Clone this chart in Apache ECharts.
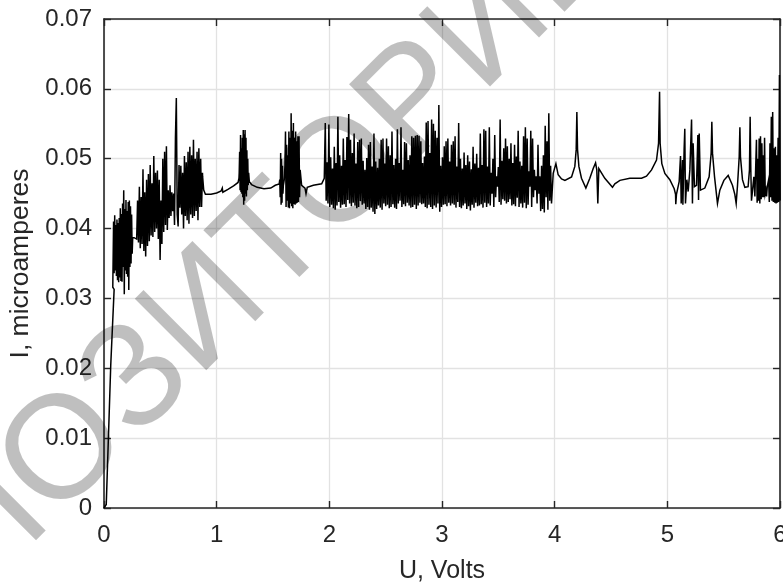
<!DOCTYPE html>
<html><head><meta charset="utf-8">
<style>html,body{margin:0;padding:0;background:#fff;overflow:hidden}#c{width:783px;height:584px}</style>
<script src="https://cdn.jsdelivr.net/npm/echarts@6/dist/echarts.min.js"></script>
</head><body><div id="c"></div>
<script>
const xTicks=[0,1,2,3,4,5,6];
const yTicks=[0,0.01,0.02,0.03,0.04,0.05,0.06,0.07];
const riseU=[0,0.012,0.02,0.06,0.09,0.078];
const riseI=[0,0,0.0005,0.0205,0.0313,0.0316];
const burstAStart=0.08,burstAStep=0.005;
const burstA=[.0316,.0410,.0336,.0419,.0340,.0405,.0332,.0413,.0326,.0408,.0323,.0415,.0330,.0429,.0325,.0421,.0324,.0436,.0345,.0455,.0306,.0428,.0340,.0441,.0335,.0425,.0331,.0438,.0312,.0440,.0345,.0432,.0350,.0420,.0364,.0388];
const burstBStart=0.29,burstBStep=0.008;
const burstB=[.0385,.0440,.0380,.0460,.0372,.0445,.0378,.0485,.0368,.0452,.0360,.0470,.0375,.0478,.0382,.0491,.0390,.0465,.0388,.0504,.0395,.0480,.0400,.0483,.0385,.0470,.0355,.0440,.0378,.0500,.0395,.0510,.0405,.0518,.0398,.0455,.0415,.0462,.0418,.0452,.0425,.0450,.0405,.0530,.0587,.0420,.0403,.0491,.0430,.0490,.0420,.0480,.0400,.0504,.0418,.0495,.0412,.0510,.0407,.0517,.0420,.0505,.0415,.0527,.0418,.0500,.0425,.0510,.0412,.0515,.0431,.0500,.0431,.0480];
const flat1U=[.875,.885,.90,.95,1.0,1.04,1.05,1.055,1.10,1.15,1.19,1.198];
const flat1I=[.0475,.0455,.0449,.0449,.0451,.0454,.0458,.0452,.0456,.0461,.0466,.0472];
const burstCStart=1.2,burstCStep=0.004;
const burstC=[.0480,.0510,.0455,.0534,.0452,.0515,.0450,.0530,.0445,.0541,.0434,.0535,.0440,.0541,.0450,.0530,.0446,.0512,.0455,.0500,.0462,.0480];
const flat2U=[1.29,1.31,1.36,1.42,1.48,1.52,1.555];
const flat2I=[.0467,.0463,.0459,.0457,.0458,.0462,.0464];
const burstC2Start=1.56,burstC2Step=0.004;
const burstC2=[.0470,.0445,.0508,.0434,.0500,.0437,.0490,.0450];
const flat3U=[1.592,1.6];
const flat3I=[.0462,.0470];
const burstDStart=1.606,burstDStep=0.005;
const burstD=[.0490,.0539,.0431,.0520,.0440,.0505,.0430,.0539,.0429,.0530,.0436,.0565,.0432,.0540,.0429,.0551,.0435,.0530,.0434,.0539,.0436,.0525,.0437,.0532,.0438,.0532,.0445,.0484];
const flat4U=[1.754,1.784,1.793,1.804,1.858,1.932,1.955];
const flat4I=[.0462,.0458,.0450,.0459,.0462,.0464,.0472];
const burstEStart=1.964,burstEStep=0.008;
const burstEHigh=[.0551,.0495,.0549,.0502,.0486,.0517,.0494,.0560,.0505,.0490,.0529,.0498,.0531,.0564,.0527,.0508,.0536,.0493,.0524,.0527,.0529,.0497,.0484,.0501,.0520,.0524,.0489,.0536,.0496,.0487,.0500,.0527,.0529,.0493,.0529,.0518,.0505,.0539,.0491,.0500,.0542,.0494,.0545,.0484,.0524,.0522,.0498,.0505,.0532,.0530,.0533,.0534,.0533,.0525,.0494,.0503,.0552,.0554,.0508,.0556,.0550,.0540,.0530,.0577,.0490,.0502,.0518,.0525,.0529,.0496,.0520,.0525,.0532,.0489,.0551,.0500,.0486,.0509,.0491,.0505,.0496,.0485,.0517,.0493,.0507,.0487,.0536,.0491,.0542,.0540,.0489,.0545,.0480,.0500,.0534,.0475,.0488,.0556,.0497,.0515,.0529,.0518,.0500,.0522,.0494,.0520,.0503,.0540,.0496,.0490,.0532,.0545,.0529,.0482,.0540,.0529,.0484,.0475,.0520,.0475,.0490,.0505,.0547,.0525,.0565,.0490];
const burstELow=[.0440,.0436,.0431,.0434,.0429,.0427,.0433,.0438,.0430,.0434,.0435,.0431,.0441,.0436,.0432,.0437,.0433,.0429,.0431,.0439,.0434,.0436,.0428,.0431,.0427,.0430,.0424,.0421,.0428,.0433,.0430,.0427,.0436,.0432,.0434,.0429,.0431,.0435,.0430,.0428,.0436,.0440,.0431,.0435,.0432,.0437,.0433,.0430,.0431,.0434,.0428,.0433,.0437,.0435,.0436,.0431,.0429,.0434,.0431,.0428,.0433,.0430,.0436,.0424,.0431,.0434,.0435,.0432,.0437,.0433,.0436,.0434,.0430,.0438,.0431,.0429,.0433,.0436,.0428,.0432,.0426,.0434,.0430,.0437,.0432,.0433,.0435,.0430,.0437,.0431,.0436,.0433,.0450,.0431,.0445,.0460,.0438,.0434,.0442,.0440,.0436,.0438,.0442,.0433,.0435,.0432,.0444,.0431,.0436,.0430,.0437,.0429,.0434,.0460,.0431,.0445,.0455,.0436,.0450,.0425,.0428,.0423,.0445,.0427,.0440,.0436];
const tailU=[3.987,4.011,4.031,4.061,4.091,4.150,4.179,4.191,4.197,4.203,4.215,4.238,4.277,4.312,4.342,4.363,4.374,4.383,4.392,4.407,4.445,4.513,4.534,4.579,4.667,4.771,4.815,4.860,4.904,4.922,4.931,4.936,4.951,4.978,5.022,5.061,5.073,5.075,5.081,5.105,5.117,5.123,5.135,5.138,5.149,5.155,5.161,5.173,5.185,5.200,5.215,5.223,5.229,5.241,5.259,5.271,5.277,5.283,5.294,5.333,5.371,5.389,5.395,5.401,5.419,5.445,5.466,5.502,5.540,5.578,5.599,5.611,5.623,5.638,5.644,5.649,5.667,5.688,5.717,5.729,5.735,5.741,5.747,5.768,5.777];
const tailI=[.0479,.0493,.0477,.0471,.0469,.0474,.0489,.0513,.0567,.0513,.0489,.0472,.0458,.0472,.0486,.0494,.0484,.0436,.0486,.0486,.0472,.0459,.0464,.0469,.0472,.0472,.0475,.0484,.0498,.0522,.0596,.0522,.0493,.0479,.0470,.0457,.0449,.0435,.0449,.0467,.0504,.0436,.0498,.0434,.0513,.0543,.0436,.0470,.0453,.0484,.0556,.0436,.0522,.0460,.0462,.0534,.0441,.0536,.0455,.0458,.0474,.0508,.0553,.0508,.0474,.0436,.0455,.0469,.0476,.0462,.0449,.0436,.0462,.0503,.0545,.0503,.0470,.0459,.0460,.0484,.0560,.0484,.0440,.0474,.0446];
const burstFStart=5.785,burstFStep=0.006;
const burstF=[.0445,.0527,.0437,.0500,.0440,.0529,.0436,.0532,.0442,.0522,.0445,.0505,.0445,.0530,.0450,.0455,.0446,.0460,.0462,.0470,.0438,.0522,.0445,.0560,.0440,.0567,.0438,.0515,.0437,.0517,.0436,.0505,.0437,.0530,.0438,.0620,.0440];
const watermark='РЕПОЗИТОРИЙ';

const pts=[];
const addXY=(u,i)=>u.forEach((v,k)=>pts.push([v,i[k]]));
const addRun=(s,d,a)=>a.forEach((v,k)=>pts.push([+(s+d*k).toFixed(4),v]));
addXY(riseU,riseI);
addRun(burstAStart,burstAStep,burstA);
addRun(burstBStart,burstBStep,burstB);
addXY(flat1U,flat1I);
addRun(burstCStart,burstCStep,burstC);
addXY(flat2U,flat2I);
addRun(burstC2Start,burstC2Step,burstC2);
addXY(flat3U,flat3I);
addRun(burstDStart,burstDStep,burstD);
addXY(flat4U,flat4I);
const burstE=[];
burstEHigh.forEach((h,k)=>{burstE.push(h,burstELow[k]);});
addRun(burstEStart,burstEStep,burstE);
addXY(tailU,tailI);
addRun(burstFStart,burstFStep,burstF);

const dark='#262626',font='"Liberation Sans",Arial,sans-serif';
const mk=(pos,show)=>({min:0,splitLine:{show:show,lineStyle:{color:'#e2e2e2',width:1.3}},
  axisLine:{show:true,onZero:false,lineStyle:{color:dark,width:1.6}},
  axisTick:{show:true,inside:true,length:7,lineStyle:{color:dark,width:1.4}},position:pos});
const chart=echarts.init(document.getElementById('c'),null,{renderer:'canvas'});
chart.setOption({animation:false,backgroundColor:'#fff',
 grid:{left:104,top:19,width:676,height:489,containLabel:false,outerBoundsMode:'none'},
 graphic:[{type:'text',x:-188,y:707,rotation:Math.PI/4,z:100,zlevel:0,silent:true,
  style:{text:watermark,fill:'rgba(0,0,0,0.25)',font:'147px "Liberation Sans"',textAlign:'left',textVerticalAlign:'middle'}}],
 xAxis:[
  Object.assign(mk('bottom',true),{type:'value',max:6,interval:1,name:'U, Volts',nameLocation:'middle',nameGap:51,
   nameTextStyle:{color:dark,fontSize:25,fontFamily:font},
   axisLabel:{color:dark,fontSize:24,fontFamily:font,margin:15,formatter:v=>String(v),hideOverlap:false,showMinLabel:true,showMaxLabel:true}}),
  Object.assign(mk('top',false),{type:'value',max:6,interval:1,axisLabel:{show:false}})
 ],
 yAxis:[
  Object.assign(mk('left',true),{type:'value',max:0.07,interval:0.01,name:'I, microamperes',nameLocation:'middle',nameGap:65,
   nameTextStyle:{color:dark,fontSize:26.5,fontFamily:font},
   axisLabel:{color:dark,fontSize:24,fontFamily:font,margin:12,formatter:v=>String(+v.toFixed(2))}}),
  Object.assign(mk('right',false),{type:'value',max:0.07,interval:0.01,axisLabel:{show:false}})
 ],
 series:[{type:'line',data:pts,showSymbol:false,symbol:'none',clip:true,
  lineStyle:{color:'#000',width:1.5,join:'miter'},xAxisIndex:0,yAxisIndex:0,z:5}]
});
</script></body></html>
